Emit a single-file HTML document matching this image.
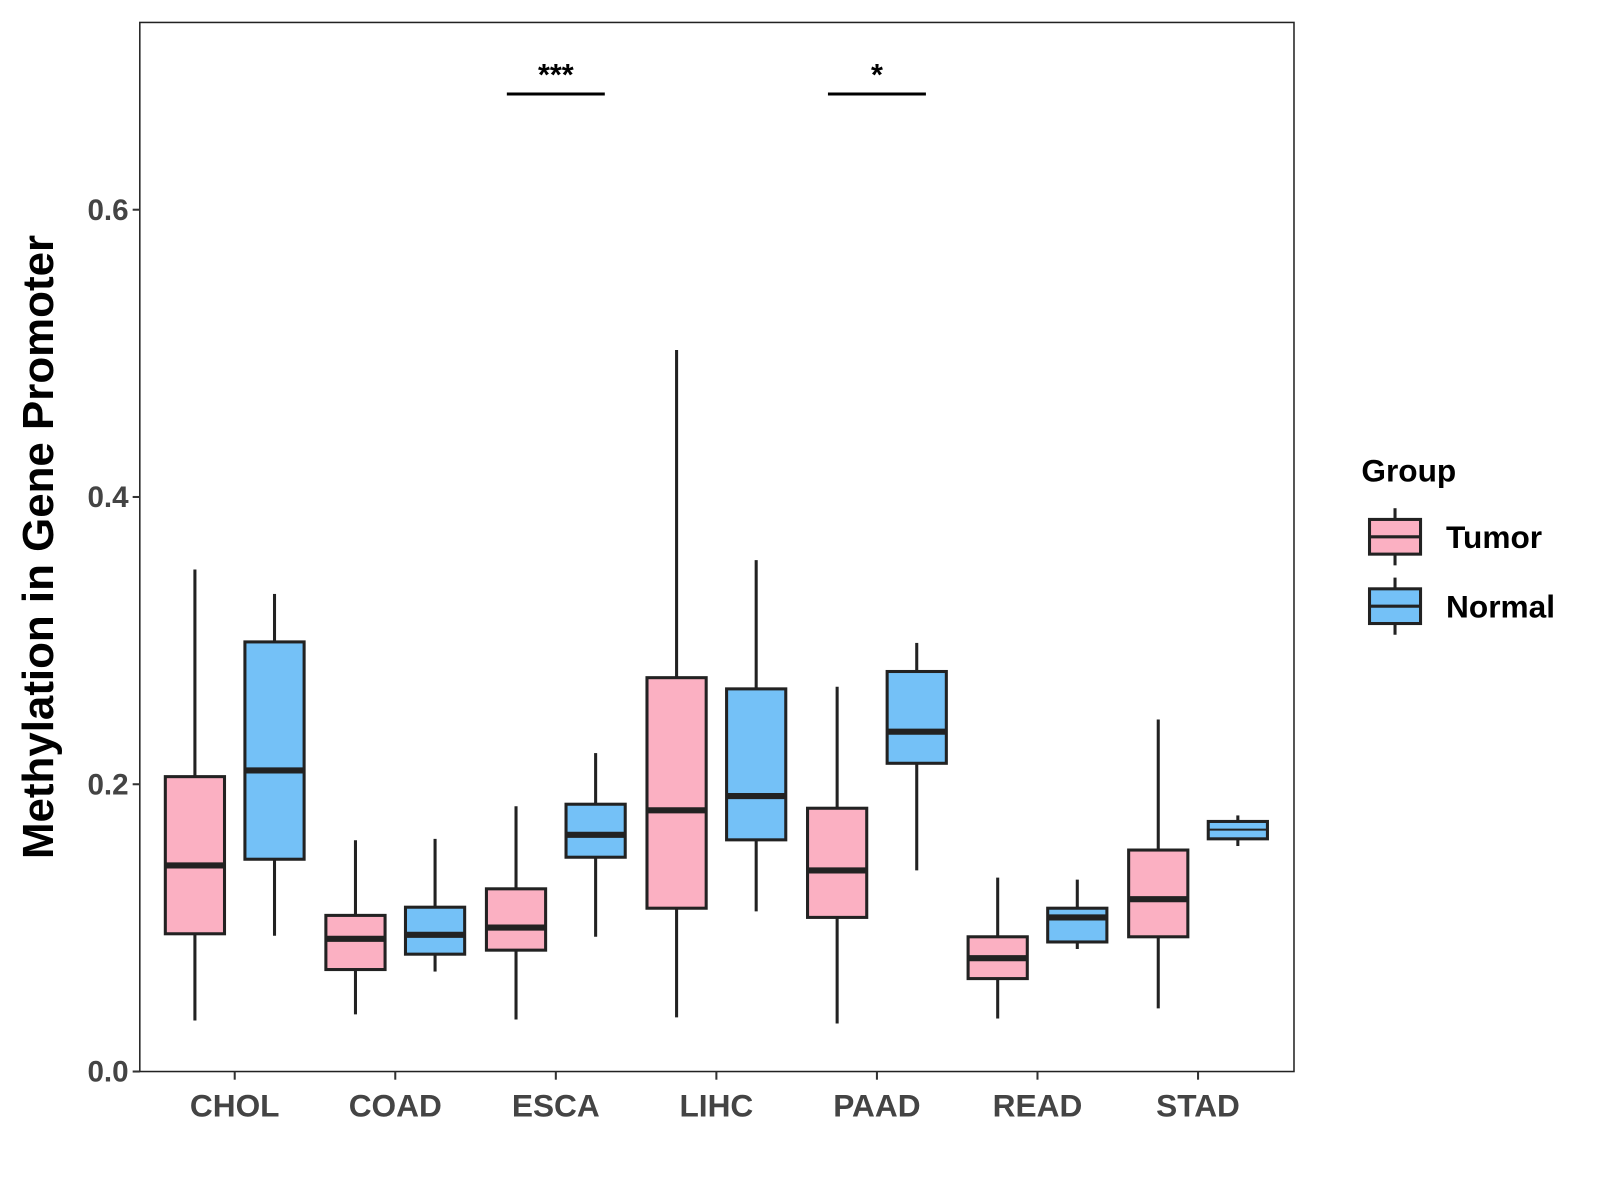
<!DOCTYPE html>
<html><head><meta charset="utf-8"><style>
body{margin:0;background:#fff}
svg{display:block;font-family:"Liberation Sans",Arial,sans-serif}
</style></head><body>
<svg width="1600" height="1200" xmlns="http://www.w3.org/2000/svg"><g id="chart" transform="scale(1.0205)"></g></svg>
<script>
const categories=["CHOL","COAD","ESCA","LIHC","PAAD","READ","STAD"];
// [low, q1, median, q3, high]
const tumorStats=[[0.0355,0.0959,0.1435,0.2053,0.3495],[0.0398,0.071,0.0924,0.1087,0.161],[0.0362,0.0845,0.1002,0.1272,0.1847],[0.0377,0.1137,0.1819,0.2742,0.5023],[0.0334,0.1073,0.140,0.1833,0.2679],[0.0369,0.0647,0.0789,0.0938,0.135],[0.044,0.0938,0.120,0.1542,0.2451]];
const normalStats=[[0.0945,0.1478,0.2096,0.2991,0.3325],[0.0696,0.0817,0.0952,0.1144,0.162],[0.0938,0.1492,0.1648,0.1861,0.2217],[0.1115,0.1613,0.1918,0.2664,0.356],[0.140,0.2146,0.2366,0.2785,0.2984],[0.0853,0.0902,0.1073,0.1137,0.1336],[0.157,0.162,0.1684,0.1741,0.1783]];
const yTicks=[0,0.2,0.4,0.6];
const yTickLabels=["0.0","0.2","0.4","0.6"];
const sigCats=["ESCA","PAAD"];
const sigLabels=["***","*"];
const sigY=0.682;

const svg=document.getElementById('chart');
const NS="http://www.w3.org/2000/svg";
const L=137,R=1268,T=22,B=1050;
const y=v=>1050-v*1407.5;
const x=i=>230+i*157.33;
function mk(tag,attrs,parent){const e=document.createElementNS(NS,tag);for(const k in attrs)e.setAttribute(k,attrs[k]);(parent||svg).appendChild(e);return e;}

const panel=mk('rect',{x:L,y:T,width:R-L,height:B-T,fill:'#fff',stroke:'#222','stroke-width':1.5});



yTicks.forEach((t,i)=>{
  const tk=mk('line',{x1:L-7,x2:L,y1:y(t),y2:y(t),stroke:'#333','stroke-width':2});
  
  
  const tl=mk('text',{x:L-11,y:y(t)+10,'text-anchor':'end','font-size':29,'font-weight':'bold',fill:'#444'});
  tl.textContent=yTickLabels[i];
  
  
});
categories.forEach((c,i)=>{
  const tk=mk('line',{x1:x(i),x2:x(i),y1:B,y2:B+8,stroke:'#333','stroke-width':2});
  
  
  const tl=mk('text',{x:x(i),y:1094,'text-anchor':'middle','font-size':31,'font-weight':'bold',fill:'#444'});
  tl.textContent=c;
  
  
});

function box(cx,s,fill,name,thin){
  const g=mk('g',{});
  
  
  const w=58;
  mk('line',{x1:cx,x2:cx,y1:y(s[0]),y2:y(s[1]),stroke:'#222','stroke-width':3},g);
  mk('line',{x1:cx,x2:cx,y1:y(s[3]),y2:y(s[4]),stroke:'#222','stroke-width':3},g);
  mk('rect',{x:cx-w/2,y:y(s[3]),width:w,height:y(s[1])-y(s[3]),fill:fill,stroke:'#222','stroke-width':3},g);
  mk('line',{x1:cx-w/2,x2:cx+w/2,y1:y(s[2]),y2:y(s[2]),stroke:'#222','stroke-width':thin?2:6},g);
}
categories.forEach((c,i)=>{
  box(x(i)-39,tumorStats[i],'#fbb0c2','box-tumor-'+c.toLowerCase());
  box(x(i)+39,normalStats[i],'#74c1f7','box-normal-'+c.toLowerCase(),(normalStats[i][3]-normalStats[i][1])<0.02);
});

sigCats.forEach((c,j)=>{
  const i=categories.indexOf(c);
  const ln=mk('line',{x1:x(i)-48,x2:x(i)+48,y1:y(sigY)+2,y2:y(sigY)+2,stroke:'#000','stroke-width':3});
  
  
  const t=mk('text',{x:x(i),y:y(sigY)-7,'text-anchor':'middle','font-size':30,'font-weight':'bold',fill:'#000'});
  t.textContent=sigLabels[j];
  
  
});

const yt=mk('text',{x:0,y:0,transform:'translate(52,536) rotate(-90)','text-anchor':'middle','font-size':43,'font-weight':'bold',fill:'#000'});
yt.textContent='Methylation in Gene Promoter';



const lg=mk('g',{});


const lt=mk('text',{x:1334,y:472,'font-size':31,'font-weight':'bold',fill:'#000'},lg);
lt.textContent='Group';
[['Tumor','#fbb0c2',526],['Normal','#74c1f7',594]].forEach(([n,f,cy])=>{
  const e=mk('g',{},lg);
  
  
  mk('line',{x1:1367,x2:1367,y1:cy-28,y2:cy+28,stroke:'#222','stroke-width':3},e);
  mk('rect',{x:1342,y:cy-17,width:50,height:34,fill:f,stroke:'#222','stroke-width':3},e);
  mk('line',{x1:1342,x2:1392,y1:cy,y2:cy,stroke:'#222','stroke-width':3},e);
  const t=mk('text',{x:1417,y:cy+11,'font-size':31,'font-weight':'bold',fill:'#000'},e);
  t.textContent=n;
});
</script>
</body></html>
